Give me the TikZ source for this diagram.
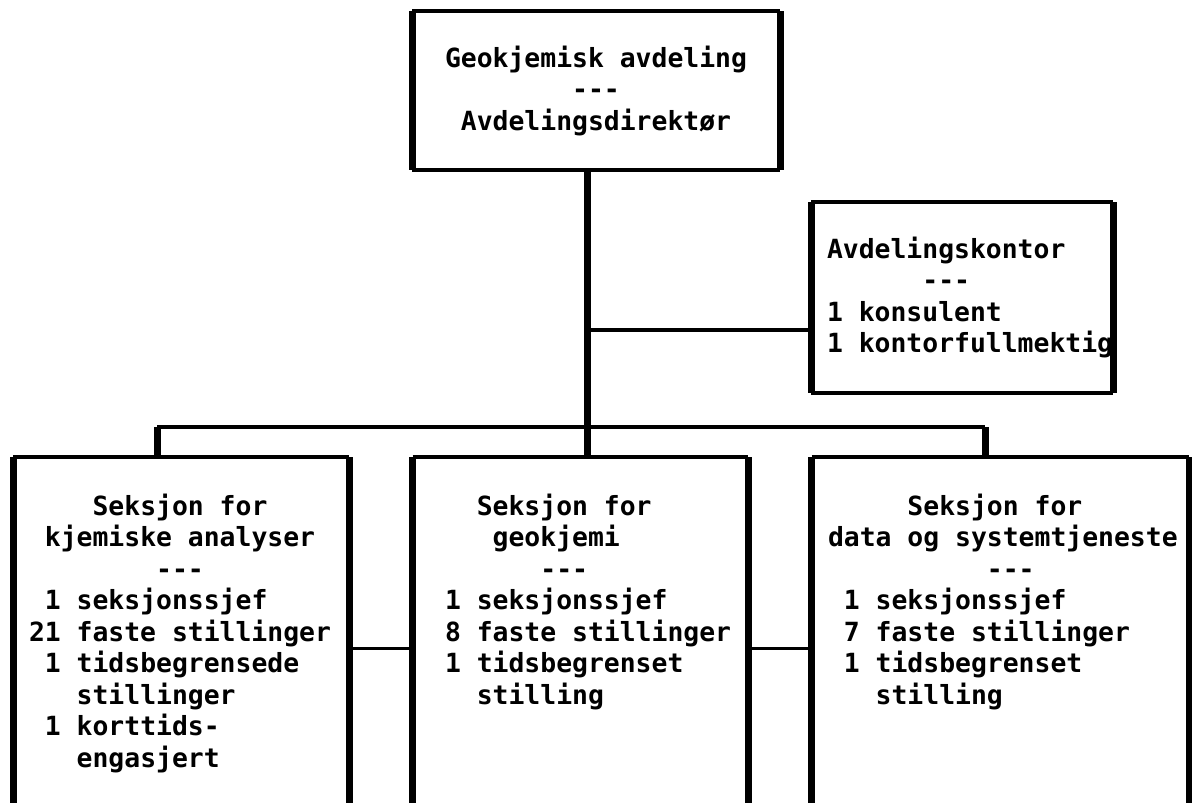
\documentclass[tikz,border=0pt]{standalone}
\usepackage{fontspec}
\setmonofont{DejaVu Sans Mono}
\usetikzlibrary{positioning}
% one typewriter cell, used for every space
\newcommand{\blank}{\hphantom{0}}
\tikzstyle{unit} = [rectangle, inner sep=0pt, outer sep=0pt, font={\ttfamily\bfseries\fontsize{26.4}{31.5}\selectfont}]
\tikzstyle{section} = [unit, anchor=north, align=left, inner ysep=37pt]
\tikzstyle{hline} = [line width=4pt, line cap=square]
\tikzstyle{vline} = [line width=7pt, line cap=square]
\tikzstyle{link} = [line width=3pt]

\begin{document}
\begin{tikzpicture}[x=1pt, y=-1pt]

    \useasboundingbox (0,0) rectangle (1192,803);
    \clip (0,0) rectangle (1192,803);

    \node (top) [unit, align=center, minimum width=368pt, minimum height=159pt] at (596,90.5) {Geokjemisk\blank avdeling\\---\\Avdelingsdirektør};
    \node (office) [unit, align=left, text width=270pt, inner xsep=16pt, minimum height=191pt] at (962,297.5) {Avdelingskontor\\\hphantom{000000}---\\1\blank konsulent\\1\blank kontorfullmektig};
    \node (sec1) [section, text width=304pt, inner xsep=16pt] at (181,457) {\hphantom{0000}Seksjon\blank for\\\blank kjemiske\blank analyser\\\hphantom{00000000}---\\\blank 1\blank seksjonssjef\\21\blank faste\blank stillinger\\\blank 1\blank tidsbegrensede\\\hphantom{000}stillinger\\\blank 1\blank korttids-\\\hphantom{000}engasjert};
    \node (sec2) [section, text width=270.5pt, inner xsep=32.5pt] at (580.25,457) {\hphantom{00}Seksjon\blank for\\\hphantom{000}geokjemi\\\hphantom{000000}---\\1\blank seksjonssjef\\8\blank faste\blank stillinger\\1\blank tidsbegrenset\\\hphantom{00}stilling};
    \node (sec3) [section, text width=344.5pt, inner xsep=16.5pt] at (1000.25,457) {\hphantom{00000}Seksjon\blank for\\data\blank og\blank systemtjeneste\\\hphantom{0000000000}---\\\blank 1\blank seksjonssjef\\\blank 7\blank faste\blank stillinger\\\blank 1\blank tidsbegrenset\\\hphantom{000}stilling};

    \coordinate (hub) at (587,330);
    \coordinate (busL) at (157,427);
    \coordinate (busR) at (985,427);
    \coordinate (linkrow) at (0,648);
    \coordinate (floor) at (0,830);

    % frames: thin tops and bottoms, heavy sides
    \foreach \n in {top,office} {
        \draw [hline] (\n.north west) -- (\n.north east);
        \draw [hline] (\n.south west) -- (\n.south east);
        \draw [vline] (\n.north west) -- (\n.south west);
        \draw [vline] (\n.north east) -- (\n.south east);
    }
    \foreach \n in {sec1,sec2,sec3} {
        \draw [hline] (\n.north west) -- (\n.north east);
        \draw [vline] (\n.north west) -- (\n.north west |- floor);
        \draw [vline] (\n.north east) -- (\n.north east |- floor);
    }

    \draw [vline] (top.south -| hub) -- (hub |- sec2.north);
    \draw [hline] (hub) -- (hub -| office.west);
    \draw [hline] (busL) -- (busR);
    \draw [vline] (busL) -- (busL |- sec1.north);
    \draw [vline] (busR) -- (busR |- sec3.north);
    \draw [link] (sec1.north east |- linkrow) -- (sec2.north west |- linkrow);
    \draw [link] (sec2.north east |- linkrow) -- (sec3.north west |- linkrow);

\end{tikzpicture}
\end{document}
